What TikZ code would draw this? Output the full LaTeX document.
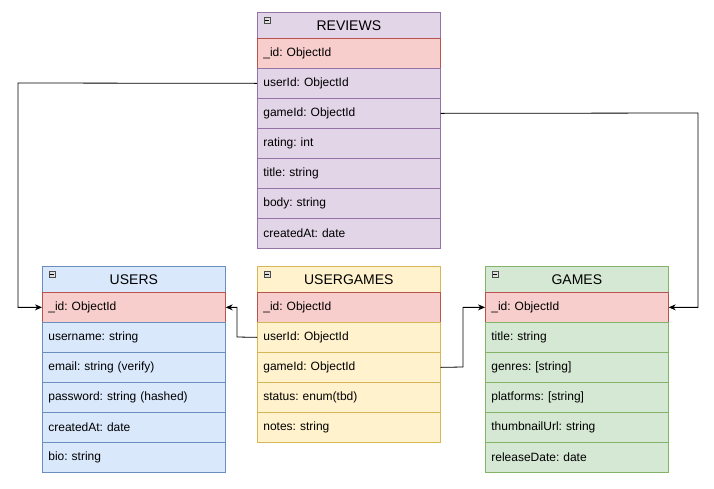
\documentclass[tikz,border=0pt]{standalone}
\usepackage{fontspec}
\setmainfont{Liberation Sans}
\usetikzlibrary{arrows.meta}
\definecolor{pfill}{HTML}{E1D5E7}\definecolor{pdraw}{HTML}{9673A6}
\definecolor{rfill}{HTML}{F8CECC}\definecolor{rdraw}{HTML}{B85450}
\definecolor{bfill}{HTML}{DAE8FC}\definecolor{bdraw}{HTML}{6C8EBF}
\definecolor{yfill}{HTML}{FFF2CC}\definecolor{ydraw}{HTML}{D6B656}
\definecolor{gfill}{HTML}{D5E8D4}\definecolor{gdraw}{HTML}{82B366}
\frenchspacing
\begin{document}
\begin{tikzpicture}[x=1pt,y=-1pt,
  base/.style={rectangle, anchor=north west, minimum width=183pt, text width=171pt,
    inner xsep=6pt, inner ysep=0pt, minimum height=30pt, align=left,
    font=\fontsize{12}{14}\selectfont\frenchspacing, line width=0.7pt},
  hdr/.style={base, minimum height=26pt, align=center, font=\fontsize{14}{16}\selectfont},
  prp/.style={fill=pfill, draw=pdraw},
  red/.style={fill=rfill, draw=rdraw},
  blu/.style={fill=bfill, draw=bdraw},
  yel/.style={fill=yfill, draw=ydraw},
  grn/.style={fill=gfill, draw=gdraw},
  minusbox/.style={rectangle, draw=gray!60!black, fill=gray!25, minimum width=6pt, minimum height=6pt, inner sep=0pt, line width=0.5pt},
  conn/.style={draw=black, line width=0.8pt, -{Stealth[length=7pt,width=6pt]}}
]
\useasboundingbox[fill=white] (0,0) rectangle (714,488);

% REVIEWS
\node[hdr,prp] (rh) at (257,12) {REVIEWS};
\node[base,red] (rid) at (257,38) {\_id: ObjectId};
\node[base,prp] (ruser) at (257,68) {userId: ObjectId};
\node[base,prp] (rgame) at (257,98) {gameId: ObjectId};
\node[base,prp] (rrating) at (257,128) {rating: int};
\node[base,prp] (rtitle) at (257,158) {title: string};
\node[base,prp] (rbody) at (257,188) {body: string};
\node[base,prp] (rcreated) at (257,218) {createdAt: date};

% USERS
\node[hdr,blu] (uh) at (42,266) {USERS};
\node[base,red] (uid) at (42,292) {\_id: ObjectId};
\node[base,blu] (uname) at (42,322) {username: string};
\node[base,blu] (umail) at (42,352) {email: string (verify)};
\node[base,blu] (upass) at (42,382) {password: string (hashed)};
\node[base,blu] (ucreated) at (42,412) {createdAt: date};
\node[base,blu] (ubio) at (42,442) {bio: string};

% USERGAMES
\node[hdr,yel] (gh) at (257,266) {USERGAMES};
\node[base,red] (gid) at (257,292) {\_id: ObjectId};
\node[base,yel] (guser) at (257,322) {userId: ObjectId};
\node[base,yel] (ggame) at (257,352) {gameId: ObjectId};
\node[base,yel] (gstatus) at (257,382) {status: enum(tbd)};
\node[base,yel] (gnotes) at (257,412) {notes: string};

% GAMES
\node[hdr,grn] (mh) at (485,266) {GAMES};
\node[base,red] (mid) at (485,292) {\_id: ObjectId};
\node[base,grn] (mtitle) at (485,322) {title: string};
\node[base,grn] (mgenres) at (485,352) {genres: [string]};
\node[base,grn] (mplat) at (485,382) {platforms: [string]};
\node[base,grn] (mthumb) at (485,412) {thumbnailUrl: string};
\node[base,grn] (mrel) at (485,442) {releaseDate: date};

% collapse icons
\foreach \n in {rh,uh,gh,mh}{
  \node[minusbox] (\n-icon) at ([xshift=10pt,yshift=-8pt]\n.north west) {};
  \draw[line width=0.5pt] ([xshift=-2pt]\n-icon.center) -- ([xshift=2pt]\n-icon.center);
}

% connectors
\coordinate (c1) at (18,83);
\coordinate (c2) at (698,113);
\coordinate (c3) at (237,337);
\coordinate (c4) at (463,367);
\draw[conn] (ruser.west) -- (c1) |- (uid.west);
\draw[conn] (rgame.east) -- (c2) |- (mid.east);
\draw[conn] (guser.west) -- (c3) |- (uid.east);
\draw[conn] (ggame.east) -- (c4) |- (mid.west);
\end{tikzpicture}
\end{document}
